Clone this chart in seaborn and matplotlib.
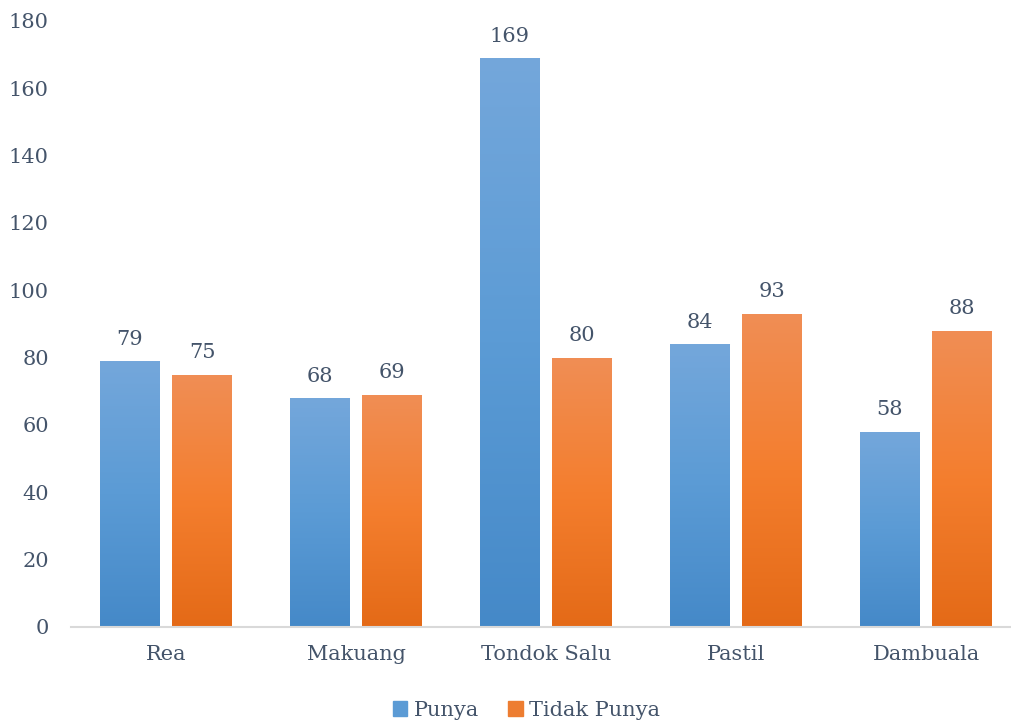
import numpy as np
import pandas as pd
import matplotlib
matplotlib.use("Agg")
import matplotlib.pyplot as plt
import seaborn as sns
from matplotlib.colors import LinearSegmentedColormap
from matplotlib.patches import Patch

## data
desa = ["Rea", "Makuang", "Tondok Salu", "Pastil", "Dambuala"]
punya = [79, 68, 169, 84, 58]
tidak_punya = [75, 69, 80, 93, 88]
series_names = ["Punya", "Tidak Punya"]

df = pd.DataFrame({"desa": desa * 2,
                   "jumlah": punya + tidak_punya,
                   "status": [series_names[0]] * 5 + [series_names[1]] * 5})

text_col = "#44546A"
fs = 15
sns.set_theme(style="white")
plt.rcParams["font.family"] = ["DejaVu Serif"]

fig = plt.figure(figsize=(10.12, 7.24), dpi=100)
ax = fig.add_axes([71 / 1012, 97 / 724, 941 / 1012, 606 / 724])

sns.barplot(data=df, x="desa", y="jumlah", hue="status", order=desa,
            hue_order=series_names, palette=["#5B9BD5", "#ED7D31"],
            width=0.76, gap=0.18, ax=ax, legend=False)

# gradient fill on every bar (bottom -> middle -> top)
grads = [LinearSegmentedColormap.from_list("b", ["#4589C8", "#5B9BD5", "#74A7DB"]),
         LinearSegmentedColormap.from_list("o", ["#E46A17", "#F47E2E", "#F08E55"])]
for i, cont in enumerate(ax.containers):
    for bar in cont:
        x0, y0 = bar.get_x(), bar.get_y()
        w, h = bar.get_width(), bar.get_height()
        g = np.linspace(0, 1, 256).reshape(-1, 1)
        im = ax.imshow(g, cmap=grads[i], origin="lower", aspect="auto",
                       extent=[x0, x0 + w, y0, y0 + h], zorder=3)
        im.set_clip_path(bar)
    ax.bar_label(cont, padding=9, fontsize=fs, color=text_col)

ax.set_xlim(-0.5, -0.5 + 941 / 190)
ax.set_ylim(0, 180)
ax.set_yticks(range(0, 181, 20))
ax.set_xlabel("")
ax.set_ylabel("")
ax.tick_params(axis="y", length=0, pad=16, labelsize=fs, labelcolor=text_col)
ax.tick_params(axis="x", length=0, pad=13, labelsize=fs, labelcolor=text_col)
sns.despine(ax=ax, left=True)
ax.spines["bottom"].set_color("#D9D9D9")
ax.spines["bottom"].set_linewidth(1.5)
ax.spines["bottom"].set_zorder(4)

handles = [Patch(color="#5B9BD5"), Patch(color="#ED7D31")]
fig.legend(handles, series_names, loc="center", bbox_to_anchor=(0.52, 0.019),
           ncol=2, frameon=False, fontsize=fs, labelcolor=text_col,
           handlelength=0.7, handleheight=0.7, handletextpad=0.3, columnspacing=1.4)

fig.savefig("out.png", dpi=100)
